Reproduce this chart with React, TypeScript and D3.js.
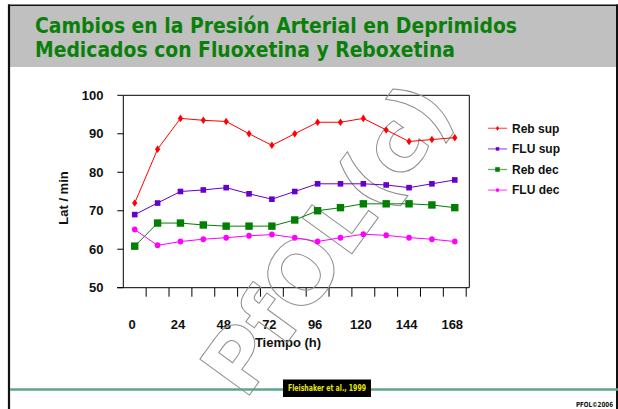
import React from 'react';
import * as d3 from 'd3';

const hours = [0, 12, 24, 36, 48, 60, 72, 84, 96, 108, 120, 132, 144, 156, 168];
const tickLabels = ['0', '24', '48', '72', '96', '120', '144', '168'];
const yTicks = [50, 60, 70, 80, 90, 100];

const rebSup = [72, 86, 94, 93.5, 93.2, 90, 87, 90, 93, 93, 94, 91, 88, 88.5, 89];
const fluSup = [69, 72, 75, 75.4, 76, 74.4, 73, 75, 77, 77, 77, 76.7, 76, 77, 78];
const rebDec = [60.8, 66.8, 66.8, 66.3, 66, 66, 66, 67.6, 70, 70.8, 71.8, 71.8, 71.8, 71.5, 70.8];
const fluDec = [65.1, 61, 62, 62.6, 63, 63.5, 63.8, 63, 62, 63, 63.9, 63.6, 63, 62.6, 62];

const seriesNames = ['Reb sup', 'FLU sup', 'Reb dec', 'FLU dec'];
const seriesData = [rebSup, fluSup, rebDec, fluDec];
const seriesColors = ['#FF0000', '#6600CC', '#008000', '#FF00FF'];
const seriesShapes = ['diamond', 'square', 'bigsquare', 'circle'];

function Marker({ shape, cx, cy, color, s = 1 }: { shape: string; cx: number; cy: number; color: string; s?: number }) {
  if (shape === 'diamond') {
    const w = 2.6 * s, h = 3.8 * s;
    return <path d={`M${cx},${cy - h}L${cx + w},${cy}L${cx},${cy + h}L${cx - w},${cy}Z`} fill={color} />;
  }
  if (shape === 'square') {
    const a = 2.8 * s;
    return <rect x={cx - a} y={cy - a} width={2 * a} height={2 * a} fill={color} />;
  }
  if (shape === 'bigsquare') {
    const a = 3.7 * s;
    return <rect x={cx - a} y={cy - a} width={2 * a} height={2 * a} fill={color} />;
  }
  return <ellipse cx={cx} cy={cy} rx={2.8 * s} ry={3 * s} fill={color} />;
}

export default function App() {
  const W = 618, H = 409;
  const x = d3.scaleBand<string>().domain(hours.map(String)).range([123.3, 466.2]);
  const bw = x.bandwidth();
  const cx = (i: number) => (x(String(hours[i])) as number) + bw / 2;
  const y = d3.scaleLinear().domain([50, 100]).range([287.7, 95.3]);
  const line = d3.line<number>().x((_, i) => cx(i)).y((d) => y(d));
  const axisFont = '"Liberation Sans", Arial, sans-serif';
  const left = 123.3, right = 469.3, top = y(100), bottom = y(50);

  return (
    <svg width={W} height={H} viewBox={`0 0 ${W} ${H}`} style={{ position: 'absolute', left: 0, top: 0, background: '#fff' }}>
      {/* header */}
      <rect x={10} y={6} width={606} height={61} fill="#C0C0C0" />
      <line x1={8} x2={618} y1={5.3} y2={5.3} stroke="#111" strokeWidth={1.6} />
      <line x1={9} x2={9} y1={4.5} y2={409} stroke="#111" strokeWidth={2.2} />
      <line x1={617} x2={617} y1={4.5} y2={409} stroke="#111" strokeWidth={2} />
      <g fontFamily='"DejaVu Sans Condensed", "DejaVu Sans", sans-serif' fontWeight="bold" fontSize={20.5} fill="#0A800A">
        <text x={35} y={33} textLength={482} lengthAdjust="spacingAndGlyphs">Cambios en la Presión Arterial en Deprimidos</text>
        <text x={35} y={57} textLength={420} lengthAdjust="spacingAndGlyphs">Medicados con Fluoxetina y Reboxetina</text>
      </g>

      {/* frame */}
      <g stroke="#000" strokeWidth={1} fill="none">
        <line x1={left} x2={right} y1={top} y2={top} />
        <line x1={right} x2={right} y1={top} y2={bottom} />
        <line x1={left} x2={left} y1={top} y2={bottom} />
        <line x1={117} x2={right} y1={bottom} y2={bottom} />
        {yTicks.map((t) => (
          <line key={t} x1={117.3} x2={left} y1={y(t)} y2={y(t)} />
        ))}
        {hours.map((h) => {
          const xx = (x(String(h)) as number) + bw;
          return <line key={h} x1={xx} x2={xx} y1={bottom} y2={bottom + 9} />;
        })}
      </g>
      <g fontFamily={axisFont} fontWeight="bold" fontSize={13} fill="#111">
        {yTicks.map((t) => (
          <text key={t} x={103.5} y={y(t)} dy="0.36em" textAnchor="end">{t}</text>
        ))}
        {tickLabels.map((l, k) => (
          <text key={l} x={cx(k * 2) - 2.5} y={324} dy="0.36em" textAnchor="middle">{l}</text>
        ))}
        <text x={288} y={342} dy="0.36em" textAnchor="middle">Tiempo (h)</text>
        <text transform={`translate(63,198) rotate(-90)`} dy="0.36em" textAnchor="middle">Lat / min</text>
      </g>

      {/* watermark */}
      <text
        transform="translate(326,238) rotate(-54)"
        textAnchor="middle"
        dy="0.36em"
        fontFamily='"DejaVu Sans", sans-serif'
        fontWeight="bold"
        fontSize={84}
        fill="none"
        stroke="#8f8f8f"
        strokeWidth={1}
        textLength={360}
        lengthAdjust="spacingAndGlyphs"
      >PfOL(c)</text>

      {/* series */}
      {seriesData.map((d, si) => (
        <g key={si}>
          <path d={line(d) as string} fill="none" stroke={seriesColors[si]} strokeWidth={1} />
          {d.map((v, i) => (
            <Marker key={i} shape={seriesShapes[si]} cx={cx(i)} cy={y(v)} color={seriesColors[si]} />
          ))}
        </g>
      ))}

      {/* legend */}
      <g fontFamily={axisFont} fontWeight="bold" fontSize={12} fill="#111">
        {seriesNames.map((n, si) => {
          const ly = 128.3 + si * 20.6;
          return (
            <g key={n}>
              <line x1={488} x2={507} y1={ly} y2={ly} stroke={seriesColors[si]} strokeWidth={1.3} opacity={0.6} />
              <Marker shape={seriesShapes[si]} cx={497.5} cy={ly} color={seriesColors[si]} s={0.62} />
              <text x={512} y={ly} dy="0.36em">{n}</text>
            </g>
          );
        })}
      </g>

      {/* footer */}
      <line x1={10} x2={618} y1={389.5} y2={389.5} stroke="#5DA687" strokeWidth={2.5} />
      <rect x={283} y={379.5} width={88} height={17.5} fill="#000" />
      <text x={327} y={391.3} textAnchor="middle" fontFamily='"DejaVu Sans Condensed", sans-serif' fontWeight="bold" fontSize={8.5} fill="#E8E800" textLength={78} lengthAdjust="spacingAndGlyphs">Fleishaker et al., 1999</text>
      <text x={613} y={406.5} textAnchor="end" fontFamily='"DejaVu Sans Condensed", sans-serif' fontWeight="bold" fontSize={7} fill="#111" textLength={37} lengthAdjust="spacingAndGlyphs">PFOL©2006</text>
    </svg>
  );
}
